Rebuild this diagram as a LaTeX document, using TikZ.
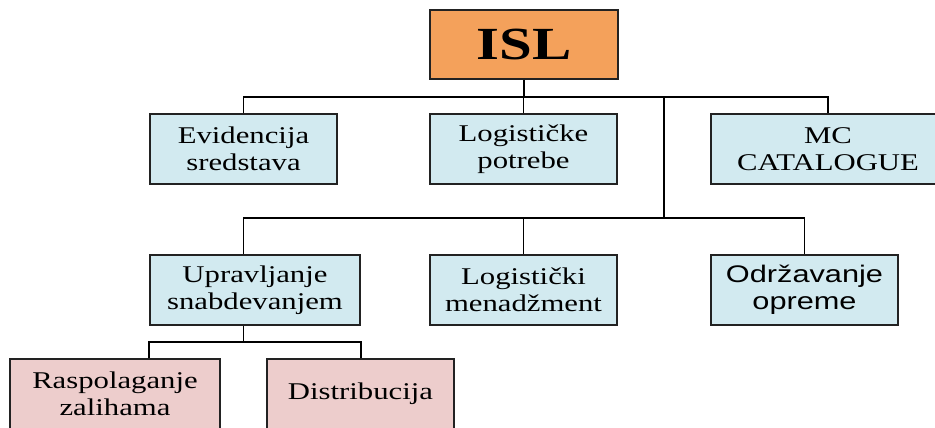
\documentclass[tikz,border=0pt]{standalone}
\usepackage{fontspec}
\setmainfont{Liberation Serif}
\newfontfamily\serifx[FakeStretch=1.28]{Liberation Serif}
\newfontfamily\sansx[FakeStretch=1.28]{Liberation Sans}
\definecolor{islorange}{HTML}{F4A15B}
\definecolor{boxblue}{HTML}{D2EAF0}
\definecolor{boxpink}{HTML}{EDCDCC}
\definecolor{boxline}{HTML}{222222}
\begin{document}
\begin{tikzpicture}[x=1pt,y=-1pt,
  box/.style={draw=boxline,line width=1.5pt,minimum height=70pt,inner sep=0pt,align=center,
    font=\serifx\fontsize{24}{27}\selectfont},
  bluebox/.style={box,fill=boxblue,minimum width=187pt},
  pinkbox/.style={box,fill=boxpink,minimum width=187pt},
  conn/.style={line width=1.6pt,draw=black}]
\useasboundingbox (0,0) rectangle (935,428);
\clip (0,0) rectangle (935,428);
\node[box,fill=islorange,minimum width=188pt,minimum height=69pt,
  font=\serifx\bfseries\fontsize{46}{50}\selectfont] (isl) at (524,44.5) {ISL};
\node[bluebox] (ev) at (243.5,149) {Evidencija\\sredstava};
\node[bluebox] (lp) at (523.5,149) {Logističke\\potrebe};
\node[bluebox,minimum width=234pt] (mc) at (828,149) {MC\\CATALOGUE};
\node[bluebox,minimum width=210pt] (up) at (255,290) {Upravljanje\\snabdevanjem};
\node[bluebox] (lm) at (523.5,290) {Logistički\\menadžment};
\node[bluebox,font=\sansx\fontsize{24}{27}\selectfont] (od) at (804.5,290) {Održavanje\\opreme};
\node[pinkbox,minimum width=210pt] (ras) at (115,394) {Raspolaganje\\zalihama};
\node[pinkbox] (dist) at (360.5,394) {Distribucija};
\coordinate (b1) at (0,97);
\coordinate (b2) at (0,218);
\coordinate (b3) at (0,342);
\coordinate (j) at (664,97);
\draw[conn] (isl.south) -- (isl.south |- b1);
\draw[conn] (ev.north) -- (ev.north |- b1) -- (mc.north |- b1) -- (mc.north);
\draw[conn] (lp.north) -- (lp.north |- b1);
\draw[conn] (j) -- (j |- b2);
\draw[conn] (up.north -| ev.north) -- (ev.north |- b2) -- (od.north |- b2) -- (od.north);
\draw[conn] (lm.north) -- (lm.north |- b2);
\draw[conn] (up.south -| ev.north) -- (ev.north |- b3);
\draw[conn] (ras.north -| up.west) -- (up.west |- b3) -- (up.east |- b3) -- (dist.north -| up.east);
\end{tikzpicture}
\end{document}
